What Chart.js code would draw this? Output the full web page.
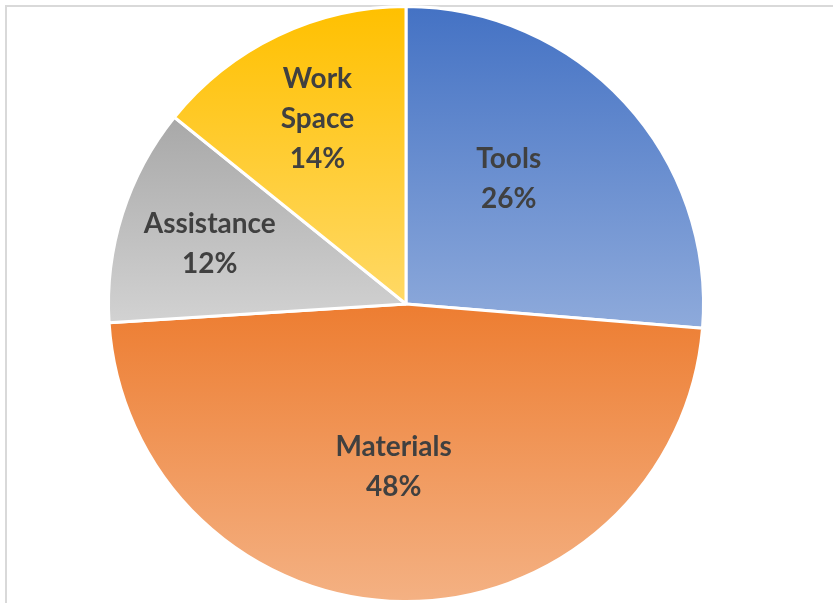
<!DOCTYPE html>
<html>
<head>
<meta charset="utf-8">
<script src="https://cdn.jsdelivr.net/npm/chart.js@4.4.0/dist/chart.umd.min.js"></script>
<style>
  html, body { margin: 0; padding: 0; background: #fff; }
  #wrap { position: relative; width: 833px; height: 603px; }
  #frame { position: absolute; left: 5px; top: 5px; width: 826px; height: 600px;
           border-top: 2px solid #d9d9d9; border-left: 2px solid #d9d9d9; }
  #myChart { position: absolute; left: 0; top: 0; }
</style>
</head>
<body>
<div id="wrap">
  <div id="frame"></div>
  <canvas id="myChart" width="833" height="603"></canvas>
</div>
<script>
var categories = ['Tools', 'Materials', 'Assistance', 'Work Space'];
var labelLines = [['Tools'], ['Materials'], ['Assistance'], ['Work', 'Space']];
// slice sizes (shown rounded as whole percents)
var shares = [26.3, 47.7, 11.8, 14.2];

// gradient top / bottom colours per slice
var topColors = ['#4472c4', '#ed7d31', '#a8a8a8', '#ffc000'];
var bottomColors = ['#8eaadb', '#f4b183', '#d2d2d2', '#ffd966'];

// where each data label sits (fraction of radius, angle nudge in degrees)
var labelRadius = [0.545, 0.55, 0.69, 0.69];
var labelShift = [-8, 3.8, -0.6, 0];

var gradients = [];

// build one vertical gradient per slice, spanning that slice's own height
var gradientPlugin = {
  id: 'sliceGradients',
  afterLayout: function(chart) {
    var area = chart.chartArea;
    var ctx = chart.ctx;
    var bw = 3;
    var cx = (area.left + area.right) / 2;
    var cy = (area.top + area.bottom) / 2;
    var r = (Math.min(area.width, area.height) - bw) / 2;
    var total = shares.reduce(function(a, b) { return a + b; }, 0);
    var a = -Math.PI / 2;
    gradients = [];
    for (var i = 0; i < shares.length; i++) {
      var a0 = a, a1 = a + shares[i] / total * Math.PI * 2;
      var ys = [cy, cy + r * Math.sin(a0), cy + r * Math.sin(a1)];
      [Math.PI / 2, Math.PI * 1.5, -Math.PI / 2].forEach(function(k) {
        if (k >= a0 && k <= a1) ys.push(cy + r * Math.sin(k));
      });
      var g = ctx.createLinearGradient(0, Math.min.apply(null, ys), 0, Math.max.apply(null, ys));
      g.addColorStop(0, topColors[i]);
      g.addColorStop(1, bottomColors[i]);
      gradients.push(g);
      a = a1;
    }
  }
};

var labelPlugin = {
  id: 'sliceLabels',
  afterDatasetsDraw: function(chart) {
    var ctx = chart.ctx;
    var arcs = chart.getDatasetMeta(0).data;
    var total = shares.reduce(function(a, b) { return a + b; }, 0);
    ctx.save();
    ctx.font = 'bold 28px Lato';
    ctx.fillStyle = '#404040';
    ctx.textAlign = 'center';
    ctx.textBaseline = 'middle';
    arcs.forEach(function(arc, i) {
      var mid = (arc.startAngle + arc.endAngle) / 2 + labelShift[i] * Math.PI / 180;
      var d = arc.outerRadius * labelRadius[i];
      var x = arc.x + Math.cos(mid) * d;
      var y = arc.y + Math.sin(mid) * d;
      var lines = labelLines[i].concat([Math.round(shares[i] / total * 100) + '%']);
      var lh = 40;
      var y0 = y - (lines.length - 1) * lh / 2;
      lines.forEach(function(t, j) {
        ctx.fillText(t, x, y0 + j * lh);
      });
    });
    ctx.restore();
  }
};

var ctx = document.getElementById('myChart').getContext('2d');
var myChart = new Chart(ctx, {
  type: 'pie',
  data: {
    labels: categories,
    datasets: [{
      data: shares,
      backgroundColor: function(c) { return gradients[c.dataIndex] || topColors[c.dataIndex]; },
      borderColor: '#ffffff',
      borderWidth: 3
    }]
  },
  options: {
    responsive: false,
    animation: false,
    layout: { padding: { left: 0, right: 21, top: 5, bottom: 0 } },
    plugins: {
      legend: { display: false },
      tooltip: { enabled: false }
    }
  },
  plugins: [gradientPlugin, labelPlugin]
});
</script>
</body>
</html>
